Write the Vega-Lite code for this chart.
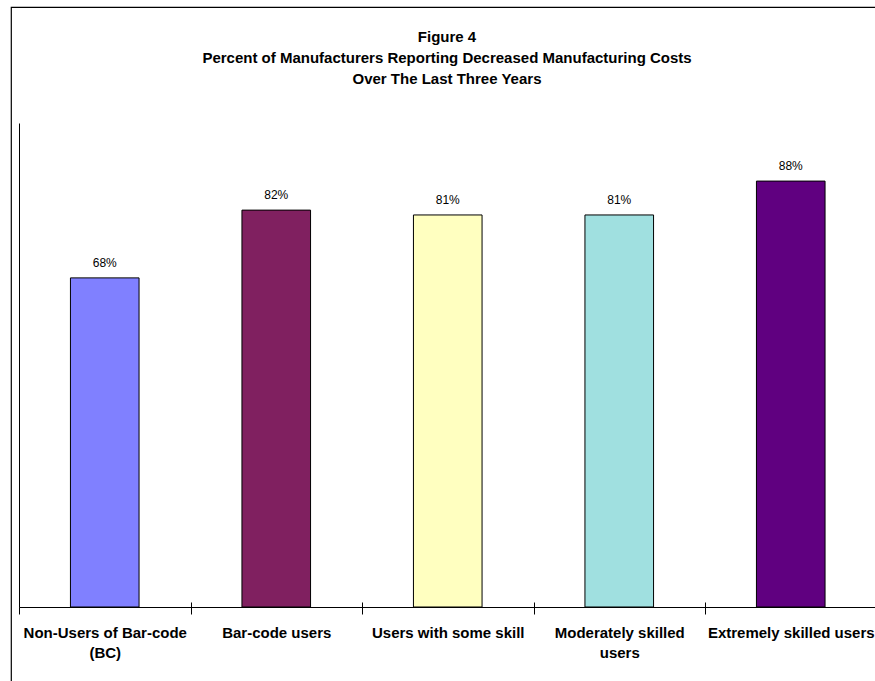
{
  "$schema": "https://vega.github.io/schema/vega-lite/v6.json",
  "width": 880,
  "height": 700,
  "autosize": {"type": "none"},
  "padding": {"left": 11, "top": 7, "right": 0, "bottom": 0},
  "background": "white",
  "config": {
    "view": {"stroke": "black", "strokeWidth": 1.2},
    "font": "Liberation Sans"
  },
  "title": {
    "text": [
      "Figure 4",
      "Percent of Manufacturers Reporting Decreased Manufacturing Costs",
      "Over The Last Three Years"
    ],
    "font": "Liberation Sans",
    "fontSize": 15,
    "fontWeight": "bold",
    "color": "black",
    "anchor": "middle",
    "frame": "group",
    "lineHeight": 21,
    "offset": -80,
    "dx": -4
  },
  "data": {
    "values": [
      {"group": "Non-Users of Bar-code (BC)", "share": 0.68},
      {"group": "Bar-code users", "share": 0.82},
      {"group": "Users with some skill", "share": 0.81},
      {"group": "Moderately skilled users", "share": 0.81},
      {"group": "Extremely skilled users", "share": 0.88}
    ]
  },
  "encoding": {
    "y": {
      "field": "share",
      "type": "quantitative",
      "scale": {"domain": [0, 1], "range": [600, 116], "nice": false, "zero": true},
      "axis": {
        "orient": "left",
        "offset": -8,
        "title": null,
        "labels": false,
        "ticks": false,
        "grid": false,
        "domainColor": "black",
        "domainWidth": 1
      }
    }
  },
  "resolve": {"axis": {"x": "independent"}},
  "layer": [
    {
      "mark": {"type": "bar", "stroke": "black", "strokeWidth": 1, "width": {"band": 0.4}},
      "encoding": {
        "x": {
          "field": "group",
          "type": "nominal",
          "sort": null,
          "scale": {"range": [8, 865.5], "paddingInner": 0, "paddingOuter": 0},
          "axis": {
            "orient": "bottom",
            "offset": -100,
            "title": null,
            "tickBand": "extent",
            "tickSize": 7,
            "tickColor": "black",
            "domainColor": "black",
            "domainWidth": 1,
            "labelAngle": 0,
            "labelFont": "Liberation Sans",
            "labelFontSize": 15,
            "labelFontWeight": "bold",
            "labelColor": "black",
            "labelPadding": 11,
            "labelLineHeight": 20,
            "labelLimit": 400,
            "labelOverlap": false,
            "labelExpr": "datum.label == 'Non-Users of Bar-code (BC)' ? ['Non-Users of Bar-code', '(BC)'] : datum.label == 'Moderately skilled users' ? ['Moderately skilled', 'users'] : datum.label"
          }
        },
        "color": {
          "field": "group",
          "type": "nominal",
          "scale": {
            "domain": [
              "Non-Users of Bar-code (BC)",
              "Bar-code users",
              "Users with some skill",
              "Moderately skilled users",
              "Extremely skilled users"
            ],
            "range": ["#8080FF", "#802060", "#FFFFC0", "#A0E0E0", "#600080"]
          },
          "legend": null
        }
      }
    },
    {
      "mark": {
        "type": "text",
        "font": "Liberation Sans",
        "fontSize": 12,
        "color": "black",
        "baseline": "alphabetic",
        "dy": -11
      },
      "encoding": {
        "x": {
          "field": "group",
          "type": "nominal",
          "sort": null,
          "scale": {"range": [8, 865.5], "paddingInner": 0, "paddingOuter": 0},
          "axis": {
            "orient": "bottom",
            "offset": -100,
            "title": null,
            "tickBand": "extent",
            "tickSize": -5,
            "tickColor": "black",
            "domain": false,
            "labels": false
          }
        },
        "text": {"field": "share", "type": "quantitative", "format": ".0%"}
      }
    }
  ]
}
